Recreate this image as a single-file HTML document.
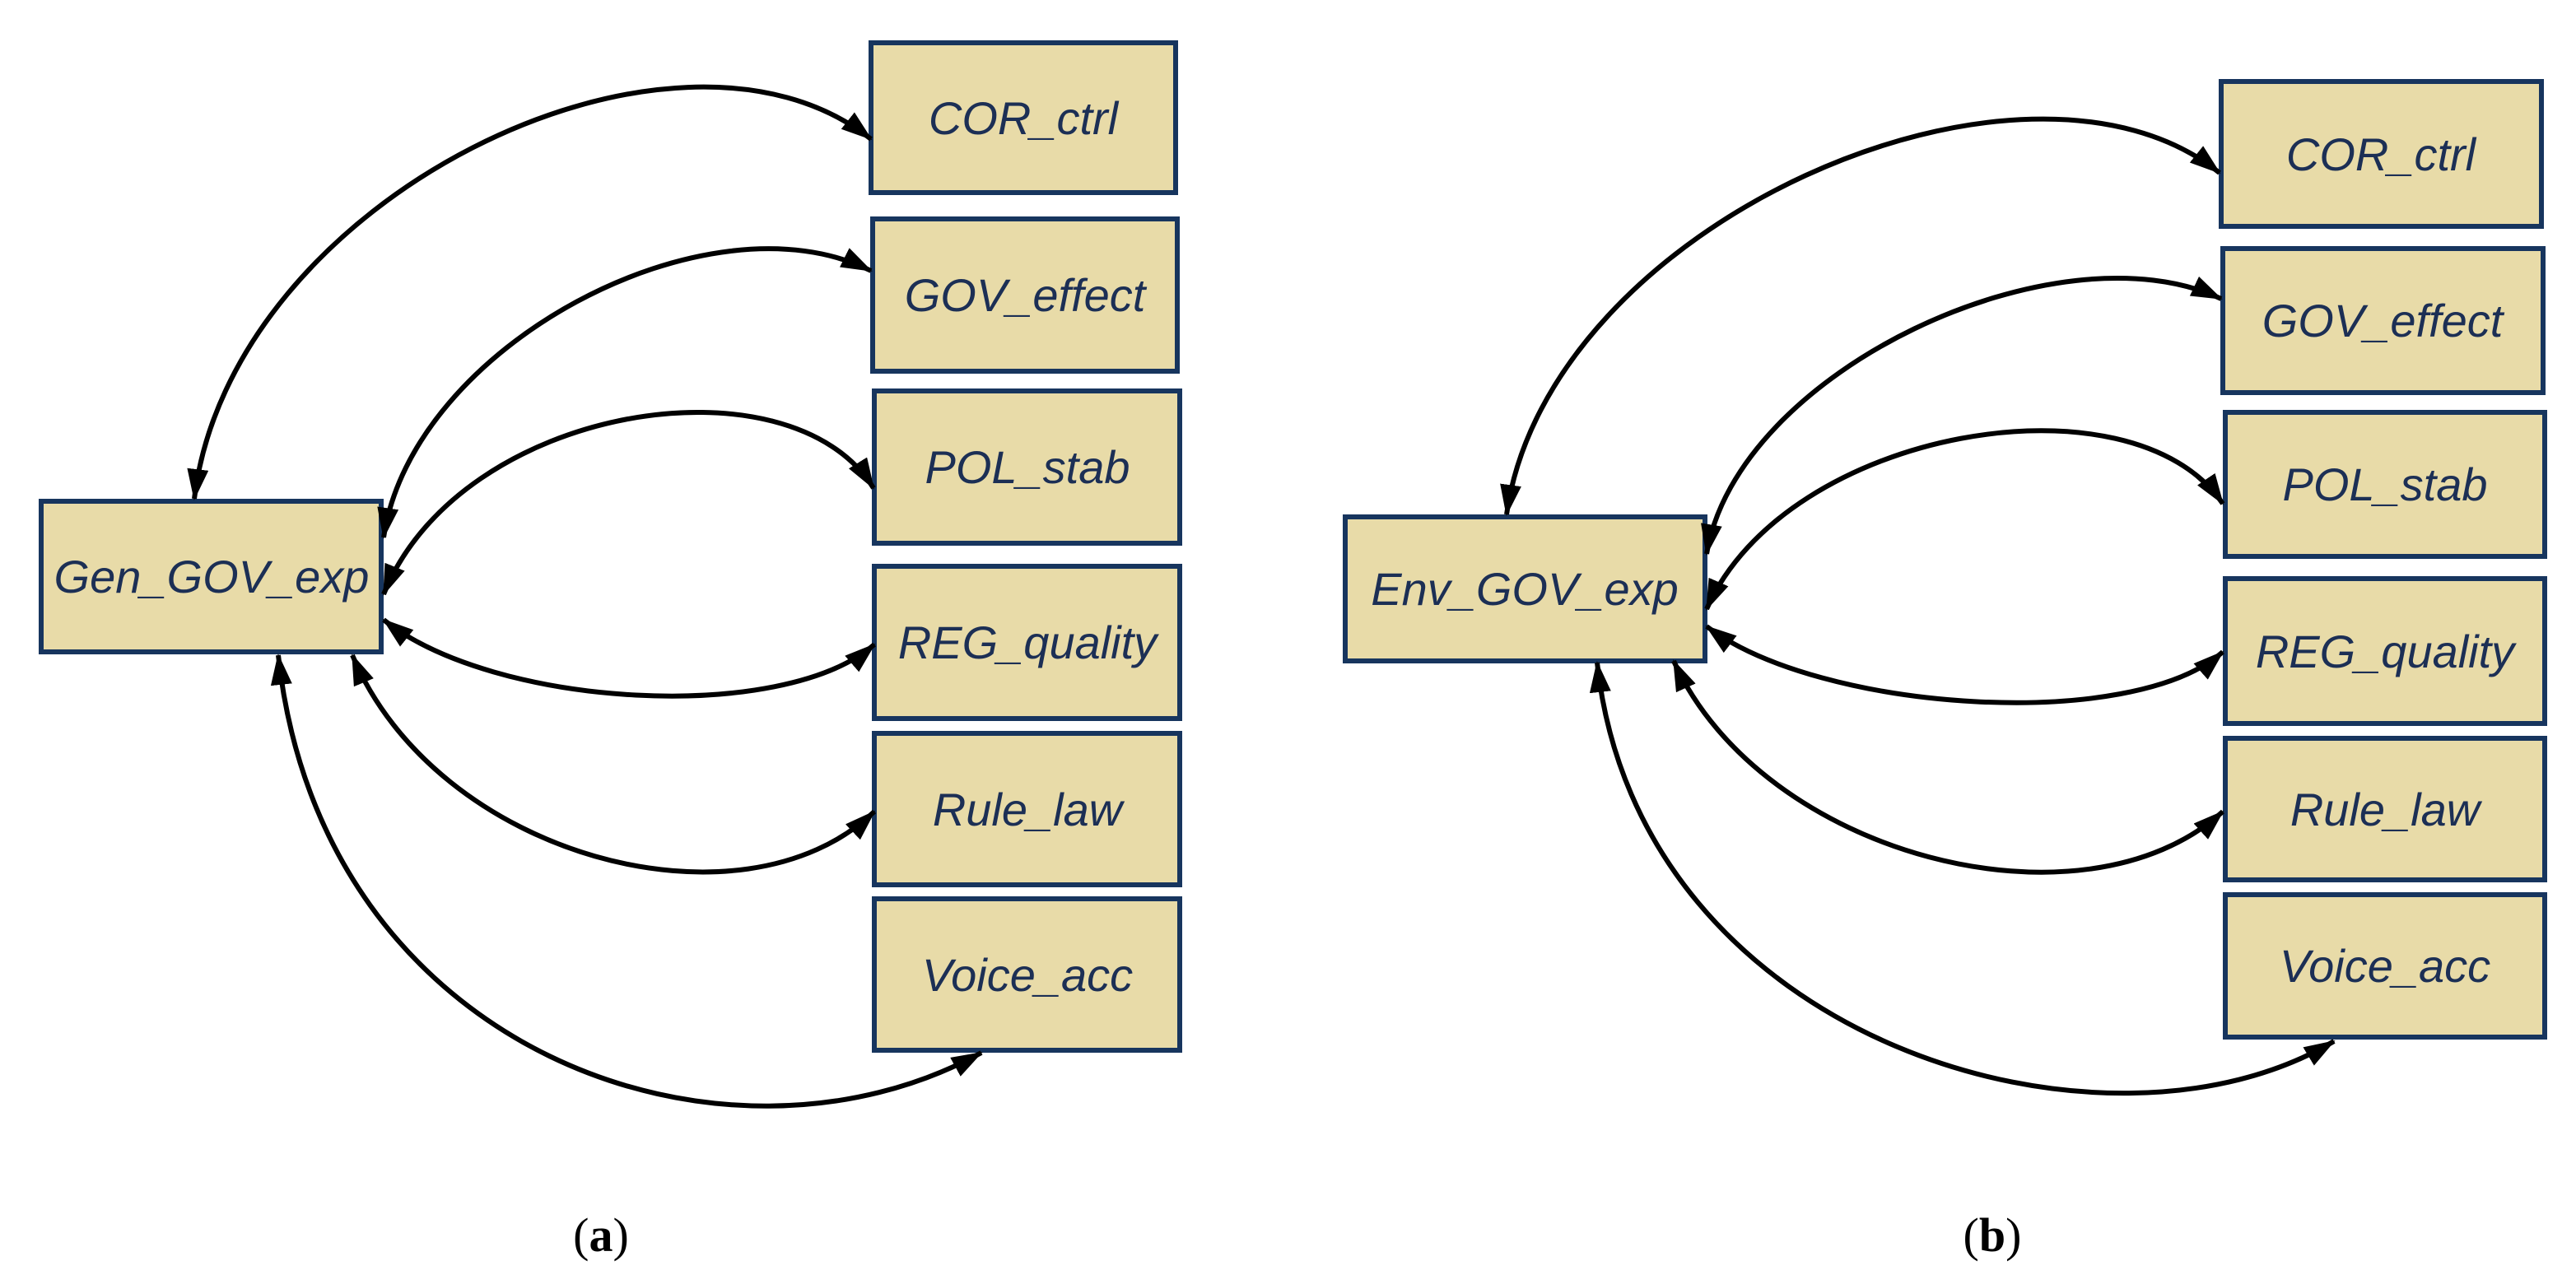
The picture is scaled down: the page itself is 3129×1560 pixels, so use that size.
<!DOCTYPE html>
<html><head><meta charset="utf-8"><style>
html,body{margin:0;padding:0;background:#fff;}
svg{display:block;}
</style></head><body>
<svg width="3129" height="1560" viewBox="0 0 3129 1560" xmlns="http://www.w3.org/2000/svg">
<defs>
<marker id="ah" markerUnits="userSpaceOnUse" markerWidth="40" markerHeight="30" refX="36" refY="13" orient="auto-start-reverse">
<path d="M0,0 L38,13 L0,26 Z" fill="#000"/>
</marker>
</defs>
<g fill="#e8dba8" stroke="#17355e" stroke-width="6">
<rect x="1058" y="52" width="370" height="182"/>
<rect x="1060" y="266" width="370" height="185"/>
<rect x="1062" y="475" width="371" height="185"/>
<rect x="1062" y="688" width="371" height="185"/>
<rect x="1062" y="891" width="371" height="184"/>
<rect x="1062" y="1092" width="371" height="184"/>
<rect x="50" y="609" width="413" height="183"/>
<rect x="2698" y="99" width="389" height="176"/>
<rect x="2700" y="302" width="389" height="175"/>
<rect x="2703" y="501" width="388" height="175"/>
<rect x="2703" y="703" width="388" height="176"/>
<rect x="2703" y="897" width="388" height="172"/>
<rect x="2703" y="1087" width="388" height="173"/>
<rect x="1634" y="628" width="437" height="175"/>
</g>
<g font-family="Liberation Sans, sans-serif" font-style="italic" font-size="56" fill="#1c2f55" text-anchor="middle">
<text x="1243" y="163">COR_ctrl</text>
<text x="1245" y="378">GOV_effect</text>
<text x="1248" y="587">POL_stab</text>
<text x="1248" y="800">REG_quality</text>
<text x="1248" y="1003">Rule_law</text>
<text x="1248" y="1204">Voice_acc</text>
<text x="257" y="720">Gen_GOV_exp</text>
<text x="2892" y="207">COR_ctrl</text>
<text x="2894" y="409">GOV_effect</text>
<text x="2897" y="608">POL_stab</text>
<text x="2897" y="811">REG_quality</text>
<text x="2897" y="1003">Rule_law</text>
<text x="2897" y="1193">Voice_acc</text>
<text x="1852" y="735">Env_GOV_exp</text>
</g>
<g fill="none" stroke="#000" stroke-width="6" marker-start="url(#ah)" marker-end="url(#ah)">
<path d="M236,606 C280,240 820,-20 1058,169"/>
<path d="M466,653 C500,420 860,230 1058,329"/>
<path d="M466,722 C560,490 960,430 1061,593"/>
<path d="M466,753 C600,860 950,880 1062,783"/>
<path d="M428,796 C530,1040 900,1140 1062,986"/>
<path d="M338,796 C390,1280 880,1450 1192,1279"/>
<path d="M1830,625 C1880,270 2460,20 2696,210"/>
<path d="M2073,673 C2110,450 2500,270 2698,363"/>
<path d="M2073,740 C2170,520 2590,450 2700,612"/>
<path d="M2073,761 C2210,865 2590,890 2700,792"/>
<path d="M2033,803 C2140,1040 2530,1140 2700,986"/>
<path d="M1940,805 C1990,1270 2560,1430 2835,1265"/>
</g>
<g font-family="Liberation Serif, serif" font-size="58" fill="#000" text-anchor="middle">
<text x="730" y="1520">(<tspan font-weight="bold">a</tspan>)</text>
<text x="2420" y="1520">(<tspan font-weight="bold">b</tspan>)</text>
</g>
</svg>
</body></html>
